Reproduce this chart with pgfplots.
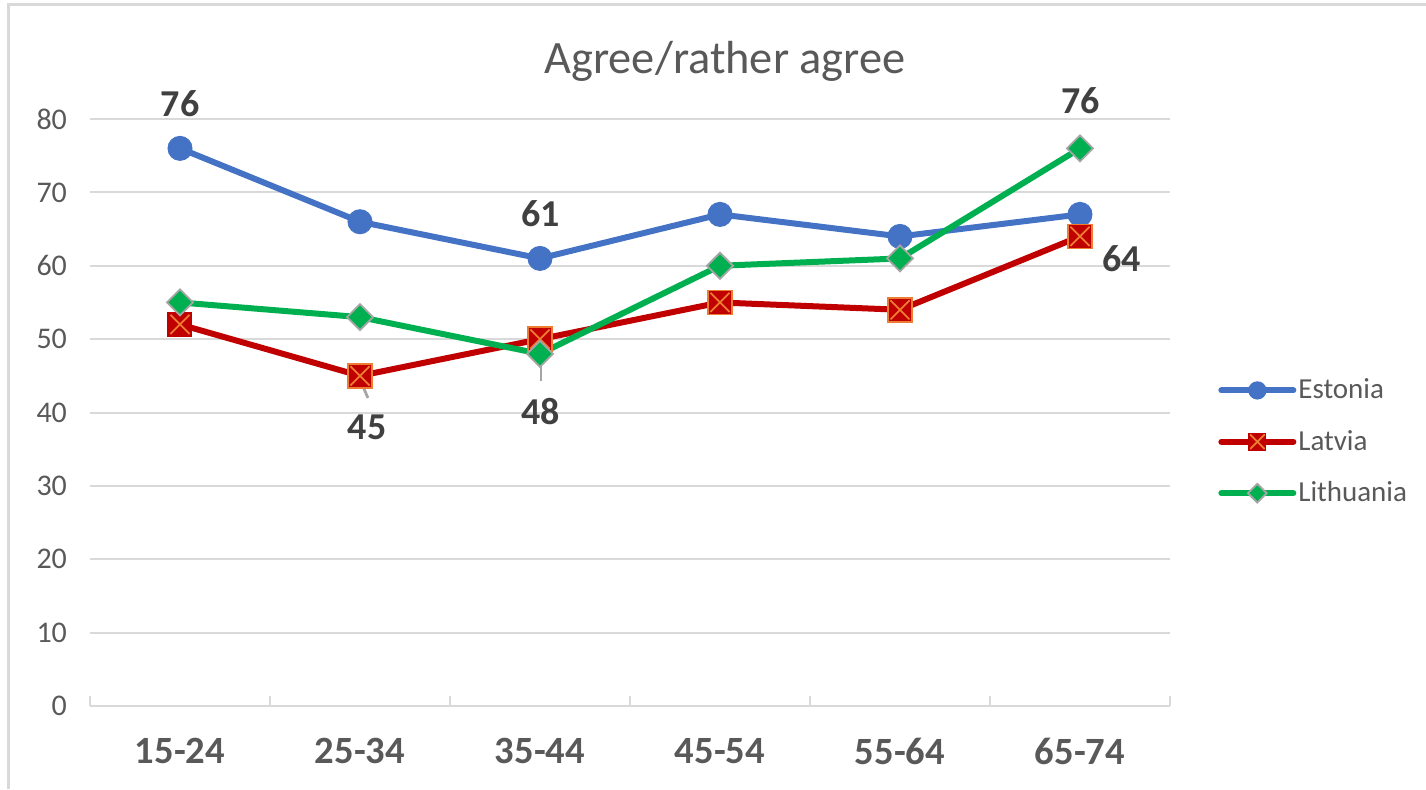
\documentclass[border=0pt]{standalone}
\usepackage{pgfplots}
\pgfplotsset{compat=1.18}
\usepackage{fontspec}
\setmainfont{Carlito}
\definecolor{cEst}{HTML}{4472C4}
\definecolor{cLat}{HTML}{C00000}
\definecolor{cLit}{HTML}{00B050}
\definecolor{cOr}{HTML}{ED7D31}
\definecolor{cGrid}{HTML}{D9D9D9}
\definecolor{cTick}{HTML}{595959}
\definecolor{cLab}{HTML}{404040}
\definecolor{cLead}{HTML}{A5A5A5}
\pgfdeclareplotmark{sqx}{%
  \pgfpathrectangle{\pgfpoint{-\pgfplotmarksize}{-\pgfplotmarksize}}{\pgfpoint{2\pgfplotmarksize}{2\pgfplotmarksize}}%
  \pgfusepathqfillstroke
  \pgfsetstrokecolor{cOr}\pgfsetlinewidth{0.9pt}%
  \pgfpathmoveto{\pgfpoint{-0.8\pgfplotmarksize}{-0.8\pgfplotmarksize}}%
  \pgfpathlineto{\pgfpoint{0.8\pgfplotmarksize}{0.8\pgfplotmarksize}}%
  \pgfpathmoveto{\pgfpoint{-0.8\pgfplotmarksize}{0.8\pgfplotmarksize}}%
  \pgfpathlineto{\pgfpoint{0.8\pgfplotmarksize}{-0.8\pgfplotmarksize}}%
  \pgfusepathqstroke
}
\begin{document}
\begin{tikzpicture}
\path[use as bounding box] (0pt,0pt) rectangle (713pt,-394.5pt);
\draw[cGrid, line width=1.2pt] (4.25pt,-394.5pt) -- (4.25pt,-2.25pt) -- (713pt,-2.25pt);
\node[text=cTick, font=\fontsize{23.2}{26}\selectfont] at (362.5pt,-30.5pt) {Agree/rather agree};
\begin{axis}[
  at={(45pt,-353pt)}, anchor=south west,
  scale only axis, width=540pt, height=293.5pt,
  xmin=-0.5, xmax=5.5, ymin=0, ymax=80,
  ytick={0,10,...,80},
  xtick={0,...,5},
  xticklabels={15-24,25-34,35-44,45-54,55-64,65-74},
  minor xtick={-0.5,0.5,...,5.5},
  axis lines*=left,
  axis line style={-},
  x axis line style={cGrid, line width=1pt},
  y axis line style={draw=none},
  ymajorgrids, grid style={cGrid, line width=1pt},
  major tick length=0pt,
  minor tick length=5pt,
  minor tick style={cGrid, line width=1pt},
  tick pos=lower,
  ytick style={draw=none},
  /pgf/number format/assume math mode=true,
  yticklabel style={text=cTick, font=\fontsize{15}{18}\selectfont, xshift=-8pt},
  xticklabel style={text=cTick, font=\bfseries\fontsize{19.3}{22}\selectfont, yshift=-12.5pt},
  clip=false,
  legend style={at={(1.0444,0.45)}, anchor=west, draw=none, fill=none,
    font=\fontsize{14.5}{17}\selectfont, text=cTick, row sep=12.2pt,
    inner sep=0pt, nodes={inner sep=1pt}},
  legend cell align=left,
  legend image code/.code={\draw[mark repeat=2,mark phase=2, line cap=round, every mark/.append style={scale=0.72}] plot coordinates {(0pt,0pt)(18pt,0pt)(36pt,0pt)};},
]
\addplot[cEst, line width=3pt, mark=*, mark size=6pt, mark options={fill=cEst, draw=cEst, line width=0.5pt}]
  coordinates {(0,76)(1,66)(2,61)(3,67)(4,64)(5,67)};
\addlegendentry{Estonia}
\addplot[cLat, line width=3pt, mark=sqx, mark size=6pt, mark options={fill=cLat, draw=cLat, line width=0.5pt}]
  coordinates {(0,52)(1,45)(2,50)(3,55)(4,54)(5,64)};
\addlegendentry{Latvia}
\addplot[cLit, line width=3pt, mark=square*, mark size=4.6pt, mark options={rotate=45, fill=cLit, draw=cLead, line width=0.9pt}]
  coordinates {(0,55)(1,53)(2,48)(3,60)(4,61)(5,76)};
\addlegendentry{Lithuania}
\draw[cLead, line width=1.4pt] (axis cs:0.994,44.84) -- (axis cs:1.044,41.98);
\draw[cLead, line width=1.4pt] (axis cs:2.0056,47.98) -- (axis cs:2.0056,44.3);
\begin{scope}[every node/.style={text=cLab, font=\bfseries\fontsize{19}{22}\selectfont, inner sep=0pt}]
\node at (axis cs:0,82.1) {76};
\node at (axis cs:2.005,67.05) {61};
\node at (axis cs:5.003,82.45) {76};
\node at (axis cs:5.233,60.92) {64};
\node at (axis cs:1.039,38.02) {45};
\node at (axis cs:2.005,40.2) {48};
\end{scope}
\end{axis}
\end{tikzpicture}
\end{document}
